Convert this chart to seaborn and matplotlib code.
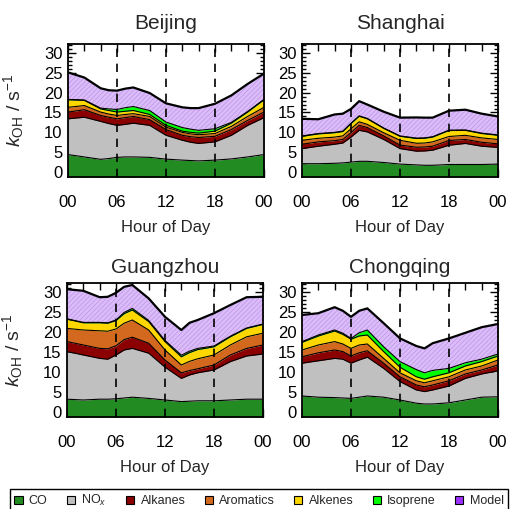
import numpy as np
import pandas as pd
import matplotlib
matplotlib.use("Agg")
import matplotlib.pyplot as plt
import seaborn as sns
from matplotlib.patches import Patch
from matplotlib.ticker import MultipleLocator, FixedLocator

# ---------------- data ----------------
hours = [0, 2, 4, 5, 6, 7, 8, 10, 12, 14, 15, 16, 18, 20, 22, 24]
categories = ["CO", "NO$_x$", "Alkanes", "Aromatics", "Alkenes", "Isoprene", "Model"]
cities = ["Beijing", "Shanghai", "Guangzhou", "Chongqing"]
xtick_pos = [0, 6, 12, 18, 24]
xtick_labels = ["00", "06", "12", "18", "00"]
ytick_pos = [0, 5, 10, 15, 20, 25, 30]
guide_hours = [6, 12, 18]

beijing_co        = [4.4, 3.8, 3.2, 3.4, 3.7, 3.8, 3.8, 3.7, 3.25, 3.0, 2.9, 2.8, 3.0, 3.3, 3.8, 4.4]
beijing_nox       = [9.0, 10.0, 9.55, 8.8, 8.05, 8.2, 8.5, 8.05, 6.0, 5.0, 4.6, 4.4, 4.6, 5.95, 7.95, 9.3]
beijing_alkanes   = [1.7, 1.9, 1.5, 1.6, 1.65, 1.7, 1.7, 1.45, 1.45, 1.25, 1.4, 1.5, 1.4, 1.45, 1.25, 1.4]
beijing_aromatics = [1.2, 1.05, 0.85, 0.8, 0.85, 0.8, 0.7, 0.8, 0.6, 0.75, 0.7, 0.7, 0.7, 0.8, 1.0, 1.2]
beijing_alkenes   = [1.9, 1.3, 0.8, 0.9, 0.85, 0.8, 0.8, 0.5, 0.45, 0.3, 0.4, 0.4, 0.6, 0.8, 1.1, 1.9]
beijing_isoprene  = [0.1, 0.1, 0.2, 0.4, 0.65, 0.9, 1.0, 1.0, 0.85, 0.9, 0.8, 0.7, 0.6, 0.2, 0.15, 0.1]
beijing_model     = [6.8, 5.65, 5.0, 4.7, 4.75, 4.8, 4.8, 4.4, 4.7, 5.1, 5.3, 5.6, 6.3, 6.8, 6.95, 6.5]

shanghai_co        = [2.1, 2.1, 2.2, 2.3, 2.5, 2.7, 2.7, 2.4, 2.0, 1.8, 1.7, 1.7, 1.9, 1.9, 1.9, 2.0]
shanghai_nox       = [3.8, 4.4, 4.8, 5.0, 6.3, 7.8, 7.4, 5.8, 3.9, 3.45, 3.6, 3.8, 4.85, 5.3, 4.6, 4.2]
shanghai_alkanes   = [1.1, 1.1, 0.9, 0.9, 1.1, 1.25, 1.1, 0.9, 0.9, 1.0, 1.0, 1.0, 1.2, 1.0, 1.0, 0.9]
shanghai_aromatics = [1.0, 0.9, 0.9, 0.9, 1.0, 0.9, 0.8, 0.8, 1.2, 1.0, 1.0, 1.1, 1.0, 1.05, 1.1, 1.1]
shanghai_alkenes   = [1.0, 1.1, 1.1, 1.1, 1.3, 1.4, 1.4, 1.1, 1.0, 1.2, 1.2, 1.2, 1.5, 1.25, 1.1, 1.05]
shanghai_isoprene  = [0.1, 0.1, 0.1, 0.1, 0.1, 0.1, 0.1, 0.1, 0.1, 0.1, 0.1, 0.1, 0.1, 0.1, 0.1, 0.1]
shanghai_model     = [4.3, 3.6, 4.5, 4.4, 3.6, 3.7, 3.5, 4.1, 4.6, 5.2, 5.1, 4.8, 4.9, 5.1, 4.9, 4.65]

guangzhou_co        = [3.2, 3.0, 3.2, 3.2, 3.3, 3.5, 3.7, 3.4, 3.0, 2.6, 2.7, 2.8, 2.8, 3.0, 3.2, 3.2]
guangzhou_nox       = [11.9, 11.25, 10.2, 10.0, 10.95, 12.0, 12.2, 11.3, 8.2, 5.8, 6.55, 7.0, 7.7, 9.6, 10.8, 11.3]
guangzhou_alkanes   = [2.5, 2.5, 2.5, 2.6, 2.3, 2.6, 2.8, 2.5, 1.8, 1.4, 1.1, 1.0, 1.25, 1.65, 1.9, 2.25]
guangzhou_aromatics = [3.3, 3.75, 4.4, 4.4, 4.2, 4.1, 4.3, 3.3, 2.5, 1.95, 2.3, 2.5, 2.5, 2.5, 2.9, 2.95]
guangzhou_alkenes   = [2.3, 1.8, 2.0, 2.0, 2.1, 2.4, 2.5, 2.1, 2.1, 2.05, 2.2, 2.3, 2.05, 2.05, 2.1, 2.2]
guangzhou_isoprene  = [0.1, 0.1, 0.1, 0.1, 0.15, 0.3, 0.4, 0.3, 0.3, 0.4, 0.35, 0.3, 0.2, 0.15, 0.1, 0.1]
guangzhou_model     = [7.4, 7.9, 6.3, 6.5, 6.8, 6.4, 5.85, 5.5, 5.9, 6.3, 7.1, 7.1, 8.2, 7.8, 7.7, 6.8]

chongqing_co        = [4.0, 3.7, 3.6, 3.5, 3.4, 3.7, 4.0, 3.7, 3.0, 2.2, 2.0, 2.0, 2.3, 3.0, 3.7, 3.8]
chongqing_nox       = [8.2, 9.1, 9.8, 9.7, 8.8, 9.3, 9.7, 7.2, 4.6, 3.3, 3.1, 3.5, 4.2, 5.4, 5.8, 6.5]
chongqing_alkanes   = [1.6, 2.0, 2.1, 1.9, 1.8, 1.8, 1.6, 1.3, 1.2, 1.25, 1.2, 1.25, 1.3, 1.1, 1.0, 1.45]
chongqing_aromatics = [1.7, 1.95, 2.1, 1.9, 1.9, 1.95, 1.7, 1.2, 1.0, 1.05, 1.0, 1.05, 1.0, 1.0, 1.0, 1.25]
chongqing_alkenes   = [1.9, 2.25, 2.65, 2.4, 2.3, 2.25, 2.25, 1.7, 1.4, 1.0, 0.9, 1.0, 1.0, 1.0, 1.1, 1.0]
chongqing_isoprene  = [0.2, 0.25, 0.25, 0.3, 0.2, 0.8, 1.25, 1.2, 1.4, 1.8, 1.6, 1.6, 1.1, 0.8, 0.6, 0.5]
chongqing_model     = [6.65, 5.45, 5.7, 5.6, 5.4, 5.5, 5.4, 5.9, 5.8, 5.9, 6.1, 6.8, 7.5, 7.5, 8.0, 7.5]

city_data = {
    "Beijing": [beijing_co, beijing_nox, beijing_alkanes, beijing_aromatics,
                beijing_alkenes, beijing_isoprene, beijing_model],
    "Shanghai": [shanghai_co, shanghai_nox, shanghai_alkanes, shanghai_aromatics,
                 shanghai_alkenes, shanghai_isoprene, shanghai_model],
    "Guangzhou": [guangzhou_co, guangzhou_nox, guangzhou_alkanes, guangzhou_aromatics,
                  guangzhou_alkenes, guangzhou_isoprene, guangzhou_model],
    "Chongqing": [chongqing_co, chongqing_nox, chongqing_alkanes, chongqing_aromatics,
                  chongqing_alkenes, chongqing_isoprene, chongqing_model],
}

# ---------------- style ----------------
fill_colors = ["#228b22", "#c0c0c0", "#8b0000", "#d2691e", "#ffd700", "#00ff00", "#dcbcf8"]
legend_colors = ["#228b22", "#c0c0c0", "#8b0000", "#d2691e", "#ffd700", "#00ff00", "#9b30ff"]
hatch_color = "#bb95ea"

sns.set_style("ticks")
plt.rcParams["font.family"] = ["Liberation Sans", "DejaVu Sans"]
plt.rcParams["mathtext.fontset"] = "custom"
plt.rcParams["mathtext.rm"] = "Liberation Sans"
plt.rcParams["mathtext.it"] = "Liberation Sans:italic"
plt.rcParams["hatch.linewidth"] = 0.5

YLIM = (-1.25, 32.25)

fig = plt.figure(figsize=(5.18, 5.09), dpi=100)
W, H = 518.0, 509.0
boxes = {
    "Beijing": (68, 44, 196, 133),
    "Shanghai": (302, 44, 196, 133),
    "Guangzhou": (67, 283, 196, 134),
    "Chongqing": (302, 283, 196, 134),
}
title_pads = {"Beijing": 11, "Shanghai": 11, "Guangzhou": 7, "Chongqing": 7}
left_column = {"Beijing", "Guangzhou"}

for city in cities:
    x0, y0, w, h = boxes[city]
    ax = fig.add_axes([x0 / W, 1 - (y0 + h) / H, w / W, h / H])
    comps = np.array(city_data[city], dtype=float)
    cum = np.cumsum(comps, axis=0)
    lower = np.full(len(hours), YLIM[0])
    for i, top in enumerate(cum):
        if categories[i] == "Model":
            ax.fill_between(hours, lower, top, facecolor=fill_colors[i],
                            edgecolor=hatch_color, hatch="///////", linewidth=0, zorder=1)
        else:
            ax.fill_between(hours, lower, top, facecolor=fill_colors[i],
                            linewidth=0, zorder=1)
        lower = top
    # boundary lines via seaborn
    df = pd.DataFrame({
        "hour": np.tile(hours, len(categories) - 1),
        "k": cum[:-1].ravel(),
        "level": np.repeat(np.arange(len(categories) - 1), len(hours)),
    })
    sns.lineplot(data=df, x="hour", y="k", units="level", estimator=None,
                 color="black", linewidth=0.8, ax=ax, legend=False, zorder=3)
    sns.lineplot(x=hours, y=cum[-1], color="black", linewidth=1.6, ax=ax,
                 legend=False, zorder=3)
    for gh in guide_hours:
        ax.axvline(gh, color="black", linestyle=(0, (5, 4)), linewidth=1.2, zorder=4)

    ax.set_xlim(0, 24)
    ax.set_ylim(*YLIM)
    ax.xaxis.set_major_locator(FixedLocator(xtick_pos))
    ax.set_xticklabels(xtick_labels)
    ax.xaxis.set_minor_locator(MultipleLocator(2))
    ax.yaxis.set_major_locator(FixedLocator(ytick_pos))
    ax.yaxis.set_minor_locator(MultipleLocator(1))
    ax.tick_params(which="both", direction="in", top=True, right=True, width=1, colors="black")
    ax.tick_params(axis="x", which="major", length=6, pad=13, labelsize=12)
    ax.tick_params(axis="x", which="minor", length=5)
    ax.tick_params(axis="y", which="major", length=6, pad=4, labelsize=12)
    ax.tick_params(axis="y", which="minor", length=3)
    for s in ax.spines.values():
        s.set_linewidth(1.3)
        s.set_color("black")
        s.set_zorder(6)
    ax.set_xlabel("Hour of Day", fontsize=12, labelpad=7)
    if city in left_column:
        ax.set_ylabel(r"$k_{\mathrm{OH}}$ / s$^{-1}$", fontsize=14)
        ax.yaxis.set_label_coords(-0.215, 0.5)
    else:
        ax.set_ylabel("")
    ax.set_title(city, fontsize=15, pad=title_pads[city])

handles = [Patch(facecolor=c, edgecolor="black", linewidth=0.8) for c in legend_colors]
fig.legend(handles, categories, loc="upper left",
           bbox_to_anchor=(10 / W, 1 - 489 / H), bbox_transform=fig.transFigure,
           ncol=7, fontsize=9, frameon=True, fancybox=False, borderaxespad=0,
           handlelength=0.65, handleheight=0.65, handletextpad=0.5,
           columnspacing=1.55, borderpad=0.35, edgecolor="black")
leg = fig.legends[0]
leg.get_frame().set_linewidth(1.0)
leg.get_frame().set_alpha(1)

fig.savefig("out.png", dpi=100)
